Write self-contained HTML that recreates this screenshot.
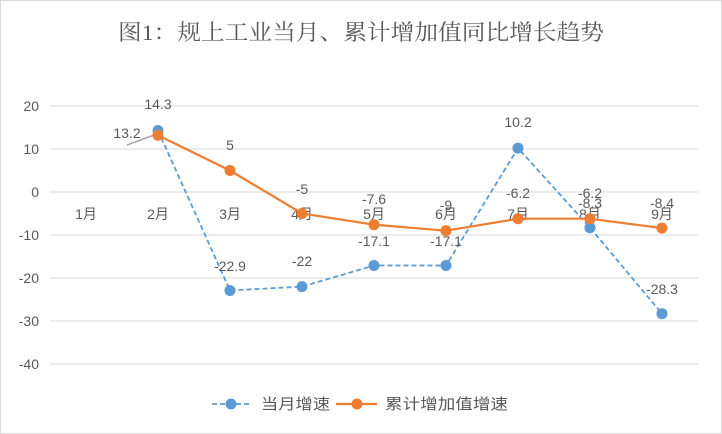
<!DOCTYPE html>
<html><head><meta charset="utf-8"><style>
html,body{margin:0;padding:0;background:#fff}
svg{display:block}
text{font-family:"Liberation Sans","Noto Sans CJK SC",sans-serif;fill:#595959}
</style></head><body>
<svg width="722" height="434" xmlns="http://www.w3.org/2000/svg">
<rect x="0.5" y="0.5" width="721" height="433" fill="#fff" stroke="#d9d9d9"/>
<text x="361" y="40" text-anchor="middle" font-size="22" textLength="486" lengthAdjust="spacingAndGlyphs" style="font-family:'Liberation Serif','Noto Serif CJK SC',serif">图1：规上工业当月、累计增加值同比增长趋势</text>
<g stroke="#d9d9d9" stroke-width="1">
<line x1="50" x2="698" y1="106" y2="106"/><line x1="50" x2="698" y1="149" y2="149"/>
<line x1="50" x2="698" y1="192" y2="192"/><line x1="50" x2="698" y1="235" y2="235"/>
<line x1="50" x2="698" y1="278" y2="278"/><line x1="50" x2="698" y1="321" y2="321"/>
<line x1="50" x2="698" y1="364" y2="364"/>
</g>
<g font-size="14" text-anchor="end">
<text x="39" y="111">20</text><text x="39" y="154">10</text><text x="39" y="197">0</text>
<text x="39" y="240">-10</text><text x="39" y="283">-20</text><text x="39" y="326">-30</text><text x="39" y="369">-40</text>
</g>
<g font-size="14" text-anchor="middle">
<text x="86" y="219">1月</text><text x="158" y="219">2月</text><text x="230" y="219">3月</text>
<text x="302" y="219">4月</text><text x="374" y="219">5月</text><text x="446" y="219">6月</text>
<text x="518" y="219">7月</text><text x="590" y="219">8月</text><text x="662" y="219">9月</text>
</g>
<line x1="127" y1="145" x2="154" y2="135" stroke="#a5a5a5" stroke-width="1.5"/>
<polyline fill="none" stroke="#5b9bd5" stroke-width="1.8" stroke-dasharray="5,3" points="158,130.5 230,290.5 302,286.6 374,265.5 446,265.5 518,148.1 590,227.7 662,313.7"/>
<g fill="#5b9bd5">
<circle cx="158" cy="130.5" r="5.5"/><circle cx="230" cy="290.5" r="5.5"/><circle cx="302" cy="286.6" r="5.5"/>
<circle cx="374" cy="265.5" r="5.5"/><circle cx="446" cy="265.5" r="5.5"/><circle cx="518" cy="148.1" r="5.5"/>
<circle cx="590" cy="227.7" r="5.5"/><circle cx="662" cy="313.7" r="5.5"/>
</g>
<polyline fill="none" stroke="#ed7d31" stroke-width="2.2" points="158,135.2 230,170.5 302,213.5 374,224.7 446,230.7 518,218.7 590,218.7 662,228.1"/>
<g fill="#ed7d31">
<circle cx="158" cy="135.2" r="5.5"/><circle cx="230" cy="170.5" r="5.5"/><circle cx="302" cy="213.5" r="5.5"/>
<circle cx="374" cy="224.7" r="5.5"/><circle cx="446" cy="230.7" r="5.5"/><circle cx="518" cy="218.7" r="5.5"/>
<circle cx="590" cy="218.7" r="5.5"/><circle cx="662" cy="228.1" r="5.5"/>
</g>
<g font-size="14" text-anchor="middle" fill="#404040">
<text x="158" y="109">14.3</text><text x="127" y="138">13.2</text>
<text x="230" y="150">5</text>
<text x="230" y="271">-22.9</text>
<text x="302" y="194">-5</text><text x="302" y="266">-22</text>
<text x="374" y="204">-7.6</text><text x="374" y="246">-17.1</text>
<text x="446" y="210">-9</text><text x="446" y="246">-17.1</text>
<text x="518" y="127">10.2</text><text x="518" y="198">-6.2</text>
<text x="590" y="198">-6.2</text><text x="590" y="208">-8.3</text>
<text x="662" y="208">-8.4</text><text x="662" y="294">-28.3</text>
</g>
<line x1="212" y1="404" x2="250" y2="404" stroke="#5b9bd5" stroke-width="1.8" stroke-dasharray="5,3"/>
<circle cx="231" cy="404" r="5.5" fill="#5b9bd5"/>
<text x="261" y="409" font-size="15" textLength="69" lengthAdjust="spacingAndGlyphs">当月增速</text>
<line x1="336" y1="404" x2="377" y2="404" stroke="#ed7d31" stroke-width="2.2"/>
<circle cx="357" cy="404" r="5.5" fill="#ed7d31"/>
<text x="385" y="409" font-size="15" textLength="123" lengthAdjust="spacingAndGlyphs">累计增加值增速</text>
</svg>
</body></html>
